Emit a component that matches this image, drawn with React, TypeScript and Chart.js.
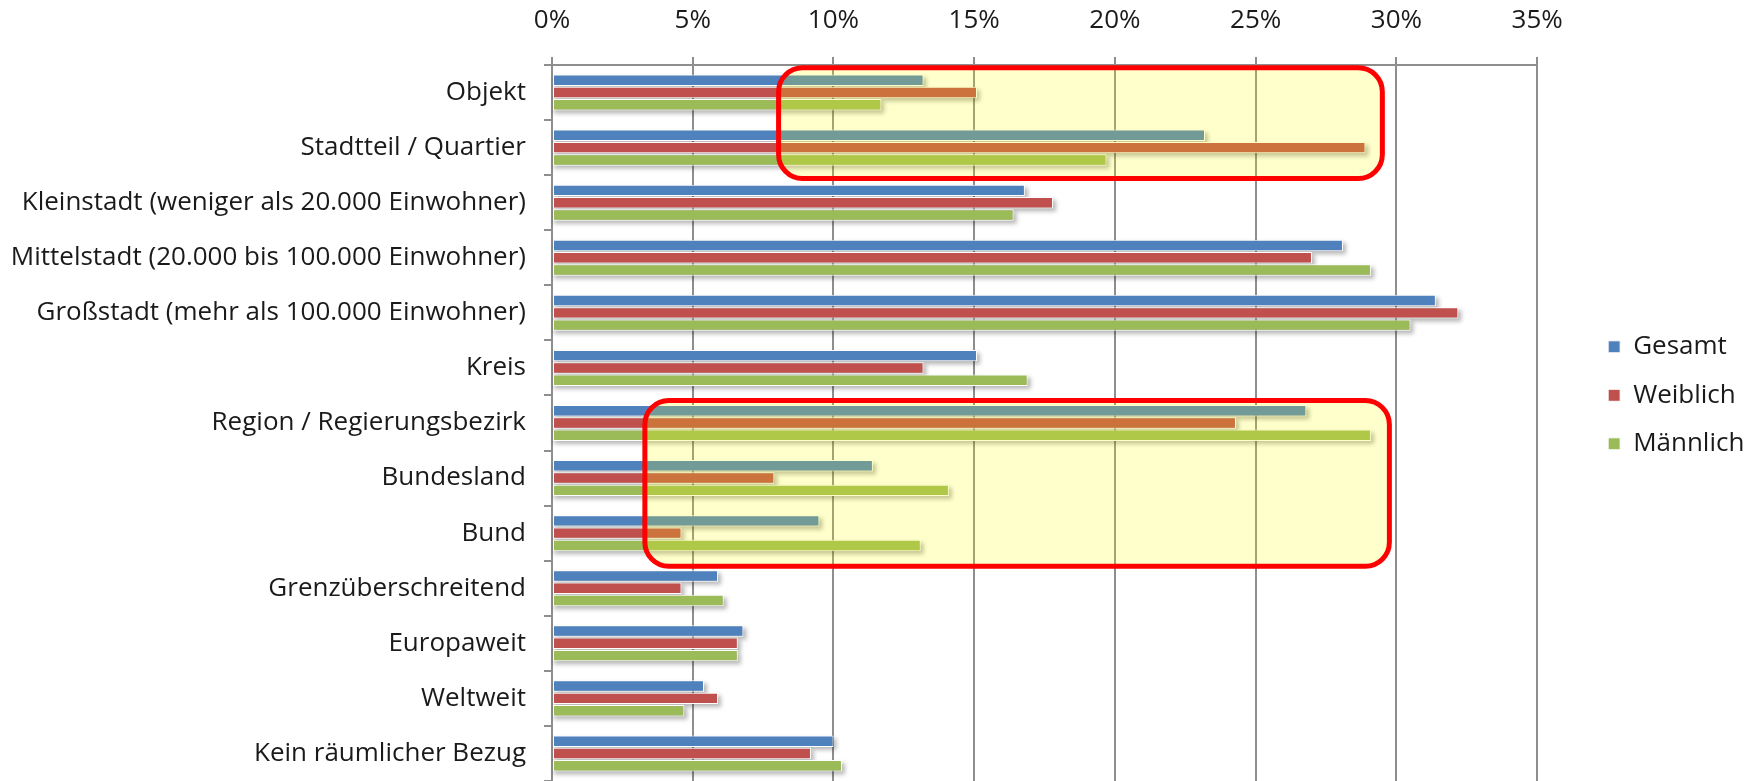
import React, { useEffect, useRef } from "react";
import { Chart, registerables } from "chart.js";

Chart.register(...registerables);

const categories = [
  "Objekt",
  "Stadtteil / Quartier",
  "Kleinstadt (weniger als 20.000 Einwohner)",
  "Mittelstadt (20.000 bis 100.000 Einwohner)",
  "Großstadt (mehr als 100.000 Einwohner)",
  "Kreis",
  "Region / Regierungsbezirk",
  "Bundesland",
  "Bund",
  "Grenzüberschreitend",
  "Europaweit",
  "Weltweit",
  "Kein räumlicher Bezug",
];

const seriesNames = ["Gesamt", "Weiblich", "Männlich"];

const gesamt = [13.2, 23.2, 16.8, 28.1, 31.4, 15.1, 26.8, 11.4, 9.5, 5.9, 6.8, 5.4, 10.0];
const weiblich = [15.1, 28.9, 17.8, 27.0, 32.2, 13.2, 24.3, 7.9, 4.6, 4.6, 6.6, 5.9, 9.2];
const maennlich = [11.7, 19.7, 16.4, 29.1, 30.5, 16.9, 29.1, 14.1, 13.1, 6.1, 6.6, 4.7, 10.3];

const seriesColors = ["#4F81BD", "#C0504D", "#9BBB59"];

const xMin = 0;
const xMax = 35;
const xStep = 5;

// Highlight areas in data units (x: percent, y: category index)
const highlightXFrom = [8.05, 3.3];
const highlightXTo = [29.5, 29.75];
const highlightYFrom = [-0.45, 5.59];
const highlightYTo = [1.56, 8.6];

const FONT = "'Open Sans', 'DejaVu Sans', sans-serif";
const FONT_SIZE = 26;
const TEXT = "#1a1a1a";
const GRID = "#8e8e8e";

const shadowPlugin = {
  id: "barShadow",
  beforeDatasetsDraw(chart: any) {
    const ctx = chart.ctx;
    ctx.save();
    ctx.fillStyle = "rgba(0,0,0,0.28)";
    ctx.filter = "blur(2px)";
    chart.data.datasets.forEach((_: any, di: number) => {
      const meta = chart.getDatasetMeta(di);
      meta.data.forEach((el: any) => {
        const p = el.getProps(["x", "y", "base", "height"], true);
        const left = Math.min(p.base, p.x);
        const w = Math.abs(p.x - p.base);
        ctx.fillRect(left + 1, p.y - p.height / 2 + 3, w + 2, p.height);
      });
    });
    ctx.restore();
  },
  afterDatasetsDraw(chart: any) {
    const ctx = chart.ctx;
    const xs = chart.scales.x;
    const ys = chart.scales.y;
    ctx.save();
    for (let i = 0; i < highlightXFrom.length; i++) {
      const l = xs.getPixelForValue(highlightXFrom[i]);
      const r = xs.getPixelForValue(highlightXTo[i]);
      const t = ys.getPixelForValue(highlightYFrom[i]);
      const b = ys.getPixelForValue(highlightYTo[i]);
      ctx.beginPath();
      ctx.roundRect(l, t, r - l, b - t, 24);
      ctx.fillStyle = "rgba(255,255,0,0.2)";
      ctx.fill();
      ctx.lineWidth = 5;
      ctx.strokeStyle = "#FF0000";
      ctx.stroke();
    }
    ctx.restore();
  },
};

const noPad = (s: any) => {
  s.paddingTop = 0;
  s.paddingBottom = 0;
};

export default function App() {
  const canvasRef = useRef<HTMLCanvasElement | null>(null);

  useEffect(() => {
    if (!canvasRef.current) return;
    const values = [gesamt, weiblich, maennlich];
    const chart = new Chart(canvasRef.current, {
      type: "bar",
      data: {
        labels: categories,
        datasets: seriesNames.map((name, i) => ({
          label: name,
          data: values[i],
          backgroundColor: seriesColors[i],
          borderColor: "#ffffff",
          borderWidth: 1,
          borderSkipped: false,
          categoryPercentage: 0.67,
          barPercentage: 0.93,
        })),
      },
      options: {
        indexAxis: "y",
        animation: false,
        responsive: true,
        maintainAspectRatio: false,
        layout: { padding: { left: 0, right: 4.6, top: 0, bottom: 0 } },
        plugins: {
          tooltip: { enabled: false },
          legend: {
            position: "right",
            align: "center",
            title: {
              display: true,
              text: " ",
              font: { family: FONT, size: 8 },
              padding: 0,
            },
            labels: {
              font: { family: FONT, size: FONT_SIZE },
              color: TEXT,
              boxWidth: 12,
              boxHeight: 12,
              padding: 22.5,
            },
          },
        },
        scales: {
          x: {
            position: "top",
            min: xMin,
            max: xMax,
            afterFit: (s: any) => {
              s.height = 65;
            },
            ticks: {
              stepSize: xStep,
              callback: (v: any) => `${v}%`,
              font: { family: FONT, size: FONT_SIZE },
              color: TEXT,
              padding: 21,
            },
            grid: {
              color: GRID,
              lineWidth: 2,
              tickLength: 8,
            },
            border: { color: GRID, width: 2 },
          },
          y: {
            afterFit: (s: any) => {
              s.width = 552;
              noPad(s);
            },
            ticks: {
              font: { family: FONT, size: FONT_SIZE },
              color: TEXT,
              padding: 18,
              autoSkip: false,
            },
            grid: {
              drawOnChartArea: false,
              color: GRID,
              lineWidth: 2,
              tickLength: 8,
            },
            border: { color: GRID, width: 2 },
          },
          spacer: {
            type: "linear",
            position: "right",
            display: true,
            afterFit: (s: any) => {
              s.width = 48.5;
              noPad(s);
            },
            ticks: { display: false },
            grid: { display: false, drawTicks: false },
            border: { display: false },
          },
        },
      },
      plugins: [shadowPlugin],
    } as any);
    return () => chart.destroy();
  }, []);

  return (
    <div style={{ position: "fixed", left: 0, top: 0, width: "100vw", height: "100vh", background: "#ffffff" }}>
      <canvas ref={canvasRef} />
    </div>
  );
}
